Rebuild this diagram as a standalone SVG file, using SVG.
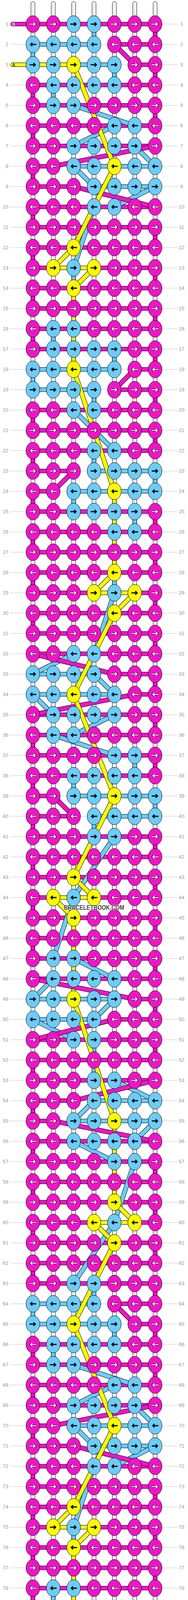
<svg xmlns="http://www.w3.org/2000/svg" xmlns:xlink="http://www.w3.org/1999/xlink" width="480" height="4648" viewBox="0 0 480 4648">
<style>
.ws{fill:#fff;stroke:#000;stroke-width:1}
.wl{fill:none;stroke:#c4c4c4;stroke-width:1.2}
.P{fill:#F014C8;stroke:#000;stroke-width:1}
.C{fill:#6CCCF8;stroke:#000;stroke-width:1}
.Y{fill:#FAFA00;stroke:#000;stroke-width:1}
.o{fill:none;stroke:#000;stroke-width:12;stroke-linejoin:round}
.dP{fill:none;stroke:#F014C8;stroke-width:10;stroke-linejoin:round}
.dC{fill:none;stroke:#6CCCF8;stroke-width:10;stroke-linejoin:round}
.dY{fill:none;stroke:#FAFA00;stroke-width:10;stroke-linejoin:round}
.n{font-family:"Liberation Sans",Arial,sans-serif;font-size:13px;fill:#999}
.ln{text-anchor:end}
.rn{text-anchor:middle}
.lab{font-family:"Liberation Sans",Arial,sans-serif;font-size:11.5px}
.wm{font-family:"Liberation Sans",Arial,sans-serif;font-size:17px;font-weight:bold;fill:#444;stroke:#fff;stroke-width:1.5;paint-order:stroke;text-anchor:middle}
</style>
<defs>
<pattern id="gl" patternUnits="userSpaceOnUse" x="0" y="-26" width="480" height="52"><rect y="25.5" width="480" height="1" fill="#c4c4c4"/></pattern>
<path id="aR" d="M-8.5,0H6M1.5,-4.5L6,0L1.5,4.5" fill="none"/>
<path id="aL" d="M8.5,0H-6M-1.5,-4.5L-6,0L-1.5,4.5" fill="none"/>
<g id="pr"><ellipse class="P" rx="17.5" ry="21.5"/><use href="#aR" stroke="#000" stroke-width="4.6"/><use href="#aR" stroke="#fff" stroke-width="2.4"/></g>
<g id="pl"><ellipse class="P" rx="17.5" ry="21.5"/><use href="#aL" stroke="#000" stroke-width="4.6"/><use href="#aL" stroke="#fff" stroke-width="2.4"/></g>
<g id="cr"><ellipse class="C" rx="17.5" ry="21.5"/><use href="#aR" stroke="#000" stroke-width="3"/></g>
<g id="cl"><ellipse class="C" rx="17.5" ry="21.5"/><use href="#aL" stroke="#000" stroke-width="3"/></g>
<g id="yr"><ellipse class="Y" rx="17.5" ry="21.5"/><use href="#aR" stroke="#000" stroke-width="3"/></g>
<g id="yl"><ellipse class="Y" rx="17.5" ry="21.5"/><use href="#aL" stroke="#000" stroke-width="3"/></g>
<path id="DC" d="M188,208L344,260M292,260L188,312M344,312L396,364M188,364L240,416M396,416L292,468M240,468L188,624M188,988L292,1092M292,1456L240,1612M188,1612L84,1664M240,1664L292,1716M84,1716L136,1768M292,1768L188,1820M136,1820L292,1872M292,2080L188,2236L136,2392M188,2392L292,2444M136,2444L84,2496M292,2496L240,2548M84,2548L188,2600M292,2704L396,2756M240,2756L188,2808M396,2808L344,2860M188,2860L292,2912M344,2912L292,3068L188,3224M188,3432L344,3484M292,3484L188,3536M344,3536L396,3588M188,3588L240,3640M396,3640L292,3692M240,3692L188,3848M188,4212L292,4316"/>
<path id="DP" d="M292,52L344,104M396,312L136,364M188,416L396,468M344,884L292,936M188,1144L136,1196M84,1612L292,1664M344,1716L84,1768M136,1976L188,2028M84,2444L344,2496M292,2548L84,2600M396,2704L188,2756M136,2808L396,2860M292,3276L344,3328M396,3536L136,3588M188,3640L396,3692M344,4108L292,4160M188,4368L136,4420"/>
<path id="DY" d="M188,104L292,364L188,572L136,624M240,624L188,676M188,884L292,1196M292,1404L240,1456M344,1456L292,1508L188,1716L292,1976L188,2184L240,2236M136,2236L188,2288M188,2496L292,2808M292,3016L344,3068M240,3068L292,3120L188,3328L292,3588L188,3796L136,3848M240,3848L188,3900M188,4108L292,4420"/>
</defs>
<rect width="480" height="4648" fill="#fff"/>
<g transform="translate(0,61.7)">
<rect x="27" y="-26" width="427" height="4576" fill="url(#gl)"/>
<g id="strings">
<rect class="ws" x="79" y="-57.7" width="10" height="4638" rx="5"/>
<rect class="ws" x="131" y="-57.7" width="10" height="4638" rx="5"/>
<rect class="ws" x="183" y="-57.7" width="10" height="4638" rx="5"/>
<rect class="ws" x="235" y="-57.7" width="10" height="4638" rx="5"/>
<rect class="ws" x="287" y="-57.7" width="10" height="4638" rx="5"/>
<rect class="ws" x="339" y="-57.7" width="10" height="4638" rx="5"/>
<rect class="ws" x="391" y="-57.7" width="10" height="4638" rx="5"/>
<path class="wl" d="M83,-52V4575M135,-52V4575M187,-52V4575M239,-52V4575M291,-52V4575M343,-52V4575M395,-52V4575"/>
</g>
<g id="connectors">
<path class="P" d="M32,-5H396v10H32a5,5 0 0 1 0-10zM292,47H396v10H292zM344,99H396v10H344zM84,151H396v10H84zM84,203H396v10H84zM84,255H396v10H84zM84,307H396v10H84zM84,359H136v10H84zM84,411H188v10H84zM84,463H396v10H84zM84,515H396v10H84zM84,567H396v10H84zM84,619H136v10H84zM240,619H396v10H240zM84,671H396v10H84zM84,723H396v10H84zM84,775H396v10H84zM84,827H396v10H84zM344,879H396v10H344zM292,931H396v10H292zM84,983H396v10H84zM84,1035H396v10H84zM84,1087H396v10H84zM84,1139H188v10H84zM84,1191H136v10H84zM84,1243H396v10H84zM84,1295H396v10H84zM84,1347H396v10H84zM84,1399H396v10H84zM84,1451H240v10H84zM344,1451H396v10H344zM84,1503H396v10H84zM84,1555H396v10H84zM84,1607H396v10H84zM292,1659H396v10H292zM344,1711H396v10H344zM84,1763H396v10H84zM84,1815H396v10H84zM84,1867H396v10H84zM84,1919H396v10H84zM84,1971H136v10H84zM84,2023H188v10H84zM84,2075H396v10H84zM84,2127H396v10H84zM84,2179H396v10H84zM84,2231H136v10H84zM240,2231H396v10H240zM84,2283H396v10H84zM84,2335H396v10H84zM84,2387H396v10H84zM84,2439H396v10H84zM344,2491H396v10H344zM292,2543H396v10H292zM84,2595H396v10H84zM84,2647H396v10H84zM84,2699H396v10H84zM84,2751H188v10H84zM84,2803H136v10H84zM84,2855H396v10H84zM84,2907H396v10H84zM84,2959H396v10H84zM84,3011H396v10H84zM84,3063H240v10H84zM344,3063H396v10H344zM84,3115H396v10H84zM84,3167H396v10H84zM84,3219H396v10H84zM292,3271H396v10H292zM344,3323H396v10H344zM84,3375H396v10H84zM84,3427H396v10H84zM84,3479H396v10H84zM84,3531H396v10H84zM84,3583H136v10H84zM84,3635H188v10H84zM84,3687H396v10H84zM84,3739H396v10H84zM84,3791H396v10H84zM84,3843H136v10H84zM240,3843H396v10H240zM84,3895H396v10H84zM84,3947H396v10H84zM84,3999H396v10H84zM84,4051H396v10H84zM344,4103H396v10H344zM292,4155H396v10H292zM84,4207H396v10H84zM84,4259H396v10H84zM84,4311H396v10H84zM84,4363H188v10H84zM84,4467H396v10H84zM32,4519H396v10H32a5,5 0 0 1 0-10z"/>
<path class="P" d="M391,16h10v20h-10zM391,120h10v20h-10zM79,172h10v20h-10zM391,224h10v20h-10zM79,276h10v20h-10zM79,380h10v20h-10zM79,484h10v20h-10zM391,536h10v20h-10zM79,588h10v20h-10zM391,640h10v20h-10zM79,692h10v20h-10zM391,744h10v20h-10zM79,796h10v20h-10zM391,848h10v20h-10zM391,952h10v20h-10zM79,1004h10v20h-10zM391,1056h10v20h-10zM79,1108h10v20h-10zM79,1212h10v20h-10zM391,1264h10v20h-10zM79,1316h10v20h-10zM391,1368h10v20h-10zM79,1420h10v20h-10zM391,1472h10v20h-10zM79,1524h10v20h-10zM391,1576h10v20h-10zM391,1680h10v20h-10zM391,1784h10v20h-10zM79,1836h10v20h-10zM391,1888h10v20h-10zM79,1940h10v20h-10zM79,2044h10v20h-10zM391,2096h10v20h-10zM79,2148h10v20h-10zM391,2200h10v20h-10zM79,2252h10v20h-10zM391,2304h10v20h-10zM79,2356h10v20h-10zM391,2408h10v20h-10zM391,2512h10v20h-10zM391,2616h10v20h-10zM79,2668h10v20h-10zM79,2772h10v20h-10zM79,2876h10v20h-10zM391,2928h10v20h-10zM79,2980h10v20h-10zM391,3032h10v20h-10zM79,3084h10v20h-10zM391,3136h10v20h-10zM79,3188h10v20h-10zM391,3240h10v20h-10zM391,3344h10v20h-10zM79,3396h10v20h-10zM391,3448h10v20h-10zM79,3500h10v20h-10zM79,3604h10v20h-10zM79,3708h10v20h-10zM391,3760h10v20h-10zM79,3812h10v20h-10zM391,3864h10v20h-10zM79,3916h10v20h-10zM391,3968h10v20h-10zM79,4020h10v20h-10zM391,4072h10v20h-10zM391,4176h10v20h-10zM79,4228h10v20h-10zM391,4280h10v20h-10zM79,4332h10v20h-10zM79,4436h10v20h-10zM391,4488h10v20h-10z"/>
<path class="C" d="M84,47H240v10H84zM188,99H292v10H188zM188,359H396v10H188zM240,411H396v10H240zM84,879H292v10H84zM84,931H240v10H84zM240,1139H396v10H240zM188,1191H396v10H188zM84,1659H240v10H84zM84,1711H292v10H84zM188,1971H396v10H188zM240,2023H396v10H240zM84,2491H292v10H84zM84,2543H240v10H84zM240,2751H396v10H240zM188,2803H396v10H188zM84,3271H240v10H84zM84,3323H292v10H84zM188,3583H396v10H188zM240,3635H396v10H240zM84,4103H292v10H84zM84,4155H240v10H84zM240,4363H396v10H240zM292,4415H396v10H292z"/>
<path class="C" d="M235,16h10v20h-10zM79,68h10v20h-10zM287,120h10v20h-10zM131,172h10v20h-10zM183,640h10v20h-10zM131,796h10v20h-10zM287,848h10v20h-10zM79,900h10v20h-10zM235,952h10v20h-10zM235,1108h10v20h-10zM391,1160h10v20h-10zM183,1212h10v20h-10zM339,1264h10v20h-10zM287,1420h10v20h-10zM339,1888h10v20h-10zM183,1940h10v20h-10zM391,1992h10v20h-10zM235,2044h10v20h-10zM235,2616h10v20h-10zM235,2668h10v20h-10zM235,3240h10v20h-10zM79,3292h10v20h-10zM287,3344h10v20h-10zM131,3396h10v20h-10zM183,3864h10v20h-10zM131,4020h10v20h-10zM287,4072h10v20h-10zM79,4124h10v20h-10zM235,4176h10v20h-10zM235,4332h10v20h-10zM391,4384h10v20h-10zM183,4436h10v20h-10zM339,4488h10v20h-10z"/>
<path class="Y" d="M32,99H188v10H32a5,5 0 0 1 0-10zM136,619H240v10H136zM240,1451H344v10H240zM136,2231H240v10H136zM240,3063H344v10H240zM136,3843H240v10H136zM32,4415H292v10H32a5,5 0 0 1 0-10zM183,692h10v176h-10zM287,1212h10v176h-10zM183,2304h10v176h-10zM287,2824h10v176h-10zM183,3916h10v176h-10z"/>
<use href="#DC" class="o"/><use href="#DC" class="dC"/>
<use href="#DP" class="o"/><use href="#DP" class="dP"/>
<use href="#DY" class="o"/><use href="#DY" class="dY"/>
</g>
<g id="knots">
<g transform="translate(0,0)"><g id="k1_1"><use href="#pr" x="84"/></g><g id="k1_2"><use href="#pr" x="136"/></g><g id="k1_3"><use href="#cr" x="188"/></g><g id="k1_4"><use href="#cr" x="240"/></g><g id="k1_5"><use href="#pr" x="292"/></g><g id="k1_6"><use href="#pr" x="344"/></g><g id="k1_7"><use href="#pr" x="396"/></g></g>
<g transform="translate(0,52)"><g id="k2_1"><use href="#cl" x="84"/></g><g id="k2_2"><use href="#cl" x="136"/></g><g id="k2_3"><use href="#cl" x="188"/></g><g id="k2_4"><use href="#cl" x="240"/></g><g id="k2_5"><use href="#pl" x="292"/></g><g id="k2_6"><use href="#pl" x="344"/></g><g id="k2_7"><use href="#pl" x="396"/></g></g>
<g transform="translate(0,104)"><g id="k3_1"><use href="#cr" x="84"/></g><g id="k3_2"><use href="#cr" x="136"/></g><g id="k3_3"><use href="#yr" x="188"/></g><g id="k3_4"><use href="#cr" x="240"/></g><g id="k3_5"><use href="#cr" x="292"/></g><g id="k3_6"><use href="#pr" x="344"/></g><g id="k3_7"><use href="#pr" x="396"/></g></g>
<g transform="translate(0,156)"><g id="k4_1"><use href="#pl" x="84"/></g><g id="k4_2"><use href="#cl" x="136"/></g><g id="k4_3"><use href="#cl" x="188"/></g><g id="k4_4"><use href="#cl" x="240"/></g><g id="k4_5"><use href="#cl" x="292"/></g><g id="k4_6"><use href="#pl" x="344"/></g><g id="k4_7"><use href="#pl" x="396"/></g></g>
<g transform="translate(0,208)"><g id="k5_1"><use href="#pr" x="84"/></g><g id="k5_2"><use href="#cr" x="136"/></g><g id="k5_3"><use href="#cr" x="188"/></g><g id="k5_4"><use href="#pr" x="240"/></g><g id="k5_5"><use href="#pr" x="292"/></g><g id="k5_6"><use href="#pr" x="344"/></g><g id="k5_7"><use href="#pr" x="396"/></g></g>
<g transform="translate(0,260)"><g id="k6_1"><use href="#pl" x="84"/></g><g id="k6_2"><use href="#pl" x="136"/></g><g id="k6_3"><use href="#pl" x="188"/></g><g id="k6_4"><use href="#pl" x="240"/></g><g id="k6_5"><use href="#cl" x="292"/></g><g id="k6_6"><use href="#cl" x="344"/></g><g id="k6_7"><use href="#pl" x="396"/></g></g>
<g transform="translate(0,312)"><g id="k7_1"><use href="#pr" x="84"/></g><g id="k7_2"><use href="#pr" x="136"/></g><g id="k7_3"><use href="#cr" x="188"/></g><g id="k7_4"><use href="#cr" x="240"/></g><g id="k7_5"><use href="#cr" x="292"/></g><g id="k7_6"><use href="#cr" x="344"/></g><g id="k7_7"><use href="#pr" x="396"/></g></g>
<g transform="translate(0,364)"><g id="k8_1"><use href="#pl" x="84"/></g><g id="k8_2"><use href="#pl" x="136"/></g><g id="k8_3"><use href="#cl" x="188"/></g><g id="k8_4"><use href="#cl" x="240"/></g><g id="k8_5"><use href="#yl" x="292"/></g><g id="k8_6"><use href="#cl" x="344"/></g><g id="k8_7"><use href="#cl" x="396"/></g></g>
<g transform="translate(0,416)"><g id="k9_1"><use href="#pr" x="84"/></g><g id="k9_2"><use href="#pr" x="136"/></g><g id="k9_3"><use href="#pr" x="188"/></g><g id="k9_4"><use href="#cr" x="240"/></g><g id="k9_5"><use href="#cr" x="292"/></g><g id="k9_6"><use href="#cr" x="344"/></g><g id="k9_7"><use href="#cr" x="396"/></g></g>
<g transform="translate(0,468)"><g id="k10_1"><use href="#pl" x="84"/></g><g id="k10_2"><use href="#pl" x="136"/></g><g id="k10_3"><use href="#pl" x="188"/></g><g id="k10_4"><use href="#cl" x="240"/></g><g id="k10_5"><use href="#cl" x="292"/></g><g id="k10_6"><use href="#pl" x="344"/></g><g id="k10_7"><use href="#pl" x="396"/></g></g>
<g transform="translate(0,520)"><g id="k11_1"><use href="#pr" x="84"/></g><g id="k11_2"><use href="#pr" x="136"/></g><g id="k11_3"><use href="#pr" x="188"/></g><g id="k11_4"><use href="#pr" x="240"/></g><g id="k11_5"><use href="#pr" x="292"/></g><g id="k11_6"><use href="#pr" x="344"/></g><g id="k11_7"><use href="#pr" x="396"/></g></g>
<g transform="translate(0,572)"><g id="k12_1"><use href="#pl" x="84"/></g><g id="k12_2"><use href="#pl" x="136"/></g><g id="k12_3"><use href="#yl" x="188"/></g><g id="k12_4"><use href="#pl" x="240"/></g><g id="k12_5"><use href="#pl" x="292"/></g><g id="k12_6"><use href="#pl" x="344"/></g><g id="k12_7"><use href="#pl" x="396"/></g></g>
<g transform="translate(0,624)"><g id="k13_1"><use href="#pr" x="84"/></g><g id="k13_2"><use href="#yr" x="136"/></g><g id="k13_3"><use href="#cr" x="188"/></g><g id="k13_4"><use href="#yr" x="240"/></g><g id="k13_5"><use href="#pr" x="292"/></g><g id="k13_6"><use href="#pr" x="344"/></g><g id="k13_7"><use href="#pr" x="396"/></g></g>
<g transform="translate(0,676)"><g id="k14_1"><use href="#pl" x="84"/></g><g id="k14_2"><use href="#pl" x="136"/></g><g id="k14_3"><use href="#yl" x="188"/></g><g id="k14_4"><use href="#pl" x="240"/></g><g id="k14_5"><use href="#pl" x="292"/></g><g id="k14_6"><use href="#pl" x="344"/></g><g id="k14_7"><use href="#pl" x="396"/></g></g>
<g transform="translate(0,728)"><g id="k15_1"><use href="#pr" x="84"/></g><g id="k15_2"><use href="#pr" x="136"/></g><g id="k15_3"><use href="#pr" x="188"/></g><g id="k15_4"><use href="#pr" x="240"/></g><g id="k15_5"><use href="#pr" x="292"/></g><g id="k15_6"><use href="#pr" x="344"/></g><g id="k15_7"><use href="#pr" x="396"/></g></g>
<g transform="translate(0,780)"><g id="k16_1"><use href="#pl" x="84"/></g><g id="k16_2"><use href="#cl" x="136"/></g><g id="k16_3"><use href="#cl" x="188"/></g><g id="k16_4"><use href="#pl" x="240"/></g><g id="k16_5"><use href="#pl" x="292"/></g><g id="k16_6"><use href="#pl" x="344"/></g><g id="k16_7"><use href="#pl" x="396"/></g></g>
<g transform="translate(0,832)"><g id="k17_1"><use href="#pr" x="84"/></g><g id="k17_2"><use href="#cr" x="136"/></g><g id="k17_3"><use href="#cr" x="188"/></g><g id="k17_4"><use href="#cr" x="240"/></g><g id="k17_5"><use href="#cr" x="292"/></g><g id="k17_6"><use href="#pr" x="344"/></g><g id="k17_7"><use href="#pr" x="396"/></g></g>
<g transform="translate(0,884)"><g id="k18_1"><use href="#cl" x="84"/></g><g id="k18_2"><use href="#cl" x="136"/></g><g id="k18_3"><use href="#yl" x="188"/></g><g id="k18_4"><use href="#cl" x="240"/></g><g id="k18_5"><use href="#cl" x="292"/></g><g id="k18_6"><use href="#pl" x="344"/></g><g id="k18_7"><use href="#pl" x="396"/></g></g>
<g transform="translate(0,936)"><g id="k19_1"><use href="#cr" x="84"/></g><g id="k19_2"><use href="#cr" x="136"/></g><g id="k19_3"><use href="#cr" x="188"/></g><g id="k19_4"><use href="#cr" x="240"/></g><g id="k19_5"><use href="#pr" x="292"/></g><g id="k19_6"><use href="#pr" x="344"/></g><g id="k19_7"><use href="#pr" x="396"/></g></g>
<g transform="translate(0,988)"><g id="k20_1"><use href="#pl" x="84"/></g><g id="k20_2"><use href="#pl" x="136"/></g><g id="k20_3"><use href="#cl" x="188"/></g><g id="k20_4"><use href="#cl" x="240"/></g><g id="k20_5"><use href="#pl" x="292"/></g><g id="k20_6"><use href="#pl" x="344"/></g><g id="k20_7"><use href="#pl" x="396"/></g></g>
<g transform="translate(0,1040)"><g id="k21_1"><use href="#pr" x="84"/></g><g id="k21_2"><use href="#pr" x="136"/></g><g id="k21_3"><use href="#pr" x="188"/></g><g id="k21_4"><use href="#pr" x="240"/></g><g id="k21_5"><use href="#pr" x="292"/></g><g id="k21_6"><use href="#pr" x="344"/></g><g id="k21_7"><use href="#pr" x="396"/></g></g>
<g transform="translate(0,1092)"><g id="k22_1"><use href="#pl" x="84"/></g><g id="k22_2"><use href="#pl" x="136"/></g><g id="k22_3"><use href="#pl" x="188"/></g><g id="k22_4"><use href="#cl" x="240"/></g><g id="k22_5"><use href="#cl" x="292"/></g><g id="k22_6"><use href="#pl" x="344"/></g><g id="k22_7"><use href="#pl" x="396"/></g></g>
<g transform="translate(0,1144)"><g id="k23_1"><use href="#pr" x="84"/></g><g id="k23_2"><use href="#pr" x="136"/></g><g id="k23_3"><use href="#pr" x="188"/></g><g id="k23_4"><use href="#cr" x="240"/></g><g id="k23_5"><use href="#cr" x="292"/></g><g id="k23_6"><use href="#cr" x="344"/></g><g id="k23_7"><use href="#cr" x="396"/></g></g>
<g transform="translate(0,1196)"><g id="k24_1"><use href="#pl" x="84"/></g><g id="k24_2"><use href="#pl" x="136"/></g><g id="k24_3"><use href="#cl" x="188"/></g><g id="k24_4"><use href="#cl" x="240"/></g><g id="k24_5"><use href="#yl" x="292"/></g><g id="k24_6"><use href="#cl" x="344"/></g><g id="k24_7"><use href="#cl" x="396"/></g></g>
<g transform="translate(0,1248)"><g id="k25_1"><use href="#pr" x="84"/></g><g id="k25_2"><use href="#pr" x="136"/></g><g id="k25_3"><use href="#cr" x="188"/></g><g id="k25_4"><use href="#cr" x="240"/></g><g id="k25_5"><use href="#cr" x="292"/></g><g id="k25_6"><use href="#cr" x="344"/></g><g id="k25_7"><use href="#pr" x="396"/></g></g>
<g transform="translate(0,1300)"><g id="k26_1"><use href="#pl" x="84"/></g><g id="k26_2"><use href="#pl" x="136"/></g><g id="k26_3"><use href="#pl" x="188"/></g><g id="k26_4"><use href="#pl" x="240"/></g><g id="k26_5"><use href="#cl" x="292"/></g><g id="k26_6"><use href="#cl" x="344"/></g><g id="k26_7"><use href="#pl" x="396"/></g></g>
<g transform="translate(0,1352)"><g id="k27_1"><use href="#pr" x="84"/></g><g id="k27_2"><use href="#pr" x="136"/></g><g id="k27_3"><use href="#pr" x="188"/></g><g id="k27_4"><use href="#pr" x="240"/></g><g id="k27_5"><use href="#pr" x="292"/></g><g id="k27_6"><use href="#pr" x="344"/></g><g id="k27_7"><use href="#pr" x="396"/></g></g>
<g transform="translate(0,1404)"><g id="k28_1"><use href="#pl" x="84"/></g><g id="k28_2"><use href="#pl" x="136"/></g><g id="k28_3"><use href="#pl" x="188"/></g><g id="k28_4"><use href="#pl" x="240"/></g><g id="k28_5"><use href="#yl" x="292"/></g><g id="k28_6"><use href="#pl" x="344"/></g><g id="k28_7"><use href="#pl" x="396"/></g></g>
<g transform="translate(0,1456)"><g id="k29_1"><use href="#pr" x="84"/></g><g id="k29_2"><use href="#pr" x="136"/></g><g id="k29_3"><use href="#pr" x="188"/></g><g id="k29_4"><use href="#yr" x="240"/></g><g id="k29_5"><use href="#cr" x="292"/></g><g id="k29_6"><use href="#yr" x="344"/></g><g id="k29_7"><use href="#pr" x="396"/></g></g>
<g transform="translate(0,1508)"><g id="k30_1"><use href="#pl" x="84"/></g><g id="k30_2"><use href="#pl" x="136"/></g><g id="k30_3"><use href="#pl" x="188"/></g><g id="k30_4"><use href="#pl" x="240"/></g><g id="k30_5"><use href="#yl" x="292"/></g><g id="k30_6"><use href="#pl" x="344"/></g><g id="k30_7"><use href="#pl" x="396"/></g></g>
<g transform="translate(0,1560)"><g id="k31_1"><use href="#pr" x="84"/></g><g id="k31_2"><use href="#pr" x="136"/></g><g id="k31_3"><use href="#pr" x="188"/></g><g id="k31_4"><use href="#pr" x="240"/></g><g id="k31_5"><use href="#pr" x="292"/></g><g id="k31_6"><use href="#pr" x="344"/></g><g id="k31_7"><use href="#pr" x="396"/></g></g>
<g transform="translate(0,1612)"><g id="k32_1"><use href="#pl" x="84"/></g><g id="k32_2"><use href="#pl" x="136"/></g><g id="k32_3"><use href="#cl" x="188"/></g><g id="k32_4"><use href="#cl" x="240"/></g><g id="k32_5"><use href="#pl" x="292"/></g><g id="k32_6"><use href="#pl" x="344"/></g><g id="k32_7"><use href="#pl" x="396"/></g></g>
<g transform="translate(0,1664)"><g id="k33_1"><use href="#cr" x="84"/></g><g id="k33_2"><use href="#cr" x="136"/></g><g id="k33_3"><use href="#cr" x="188"/></g><g id="k33_4"><use href="#cr" x="240"/></g><g id="k33_5"><use href="#pr" x="292"/></g><g id="k33_6"><use href="#pr" x="344"/></g><g id="k33_7"><use href="#pr" x="396"/></g></g>
<g transform="translate(0,1716)"><g id="k34_1"><use href="#cl" x="84"/></g><g id="k34_2"><use href="#cl" x="136"/></g><g id="k34_3"><use href="#yl" x="188"/></g><g id="k34_4"><use href="#cl" x="240"/></g><g id="k34_5"><use href="#cl" x="292"/></g><g id="k34_6"><use href="#pl" x="344"/></g><g id="k34_7"><use href="#pl" x="396"/></g></g>
<g transform="translate(0,1768)"><g id="k35_1"><use href="#pr" x="84"/></g><g id="k35_2"><use href="#cr" x="136"/></g><g id="k35_3"><use href="#cr" x="188"/></g><g id="k35_4"><use href="#cr" x="240"/></g><g id="k35_5"><use href="#cr" x="292"/></g><g id="k35_6"><use href="#pr" x="344"/></g><g id="k35_7"><use href="#pr" x="396"/></g></g>
<g transform="translate(0,1820)"><g id="k36_1"><use href="#pl" x="84"/></g><g id="k36_2"><use href="#cl" x="136"/></g><g id="k36_3"><use href="#cl" x="188"/></g><g id="k36_4"><use href="#pl" x="240"/></g><g id="k36_5"><use href="#pl" x="292"/></g><g id="k36_6"><use href="#pl" x="344"/></g><g id="k36_7"><use href="#pl" x="396"/></g></g>
<g transform="translate(0,1872)"><g id="k37_1"><use href="#pr" x="84"/></g><g id="k37_2"><use href="#pr" x="136"/></g><g id="k37_3"><use href="#pr" x="188"/></g><g id="k37_4"><use href="#pr" x="240"/></g><g id="k37_5"><use href="#cr" x="292"/></g><g id="k37_6"><use href="#cr" x="344"/></g><g id="k37_7"><use href="#pr" x="396"/></g></g>
<g transform="translate(0,1924)"><g id="k38_1"><use href="#pl" x="84"/></g><g id="k38_2"><use href="#pl" x="136"/></g><g id="k38_3"><use href="#cl" x="188"/></g><g id="k38_4"><use href="#cl" x="240"/></g><g id="k38_5"><use href="#cl" x="292"/></g><g id="k38_6"><use href="#cl" x="344"/></g><g id="k38_7"><use href="#pl" x="396"/></g></g>
<g transform="translate(0,1976)"><g id="k39_1"><use href="#pr" x="84"/></g><g id="k39_2"><use href="#pr" x="136"/></g><g id="k39_3"><use href="#cr" x="188"/></g><g id="k39_4"><use href="#cr" x="240"/></g><g id="k39_5"><use href="#yr" x="292"/></g><g id="k39_6"><use href="#cr" x="344"/></g><g id="k39_7"><use href="#cr" x="396"/></g></g>
<g transform="translate(0,2028)"><g id="k40_1"><use href="#pl" x="84"/></g><g id="k40_2"><use href="#pl" x="136"/></g><g id="k40_3"><use href="#pl" x="188"/></g><g id="k40_4"><use href="#cl" x="240"/></g><g id="k40_5"><use href="#cl" x="292"/></g><g id="k40_6"><use href="#cl" x="344"/></g><g id="k40_7"><use href="#cl" x="396"/></g></g>
<g transform="translate(0,2080)"><g id="k41_1"><use href="#pr" x="84"/></g><g id="k41_2"><use href="#pr" x="136"/></g><g id="k41_3"><use href="#pr" x="188"/></g><g id="k41_4"><use href="#cr" x="240"/></g><g id="k41_5"><use href="#cr" x="292"/></g><g id="k41_6"><use href="#pr" x="344"/></g><g id="k41_7"><use href="#pr" x="396"/></g></g>
<g transform="translate(0,2132)"><g id="k42_1"><use href="#pl" x="84"/></g><g id="k42_2"><use href="#pl" x="136"/></g><g id="k42_3"><use href="#pl" x="188"/></g><g id="k42_4"><use href="#pl" x="240"/></g><g id="k42_5"><use href="#pl" x="292"/></g><g id="k42_6"><use href="#pl" x="344"/></g><g id="k42_7"><use href="#pl" x="396"/></g></g>
<g transform="translate(0,2184)"><g id="k43_1"><use href="#pr" x="84"/></g><g id="k43_2"><use href="#pr" x="136"/></g><g id="k43_3"><use href="#yr" x="188"/></g><g id="k43_4"><use href="#pr" x="240"/></g><g id="k43_5"><use href="#pr" x="292"/></g><g id="k43_6"><use href="#pr" x="344"/></g><g id="k43_7"><use href="#pr" x="396"/></g></g>
<g transform="translate(0,2236)"><g id="k44_1"><use href="#pl" x="84"/></g><g id="k44_2"><use href="#yl" x="136"/></g><g id="k44_3"><use href="#cl" x="188"/></g><g id="k44_4"><use href="#yl" x="240"/></g><g id="k44_5"><use href="#pl" x="292"/></g><g id="k44_6"><use href="#pl" x="344"/></g><g id="k44_7"><use href="#pl" x="396"/></g></g>
<g transform="translate(0,2288)"><g id="k45_1"><use href="#pr" x="84"/></g><g id="k45_2"><use href="#pr" x="136"/></g><g id="k45_3"><use href="#yr" x="188"/></g><g id="k45_4"><use href="#pr" x="240"/></g><g id="k45_5"><use href="#pr" x="292"/></g><g id="k45_6"><use href="#pr" x="344"/></g><g id="k45_7"><use href="#pr" x="396"/></g></g>
<g transform="translate(0,2340)"><g id="k46_1"><use href="#pl" x="84"/></g><g id="k46_2"><use href="#pl" x="136"/></g><g id="k46_3"><use href="#pl" x="188"/></g><g id="k46_4"><use href="#pl" x="240"/></g><g id="k46_5"><use href="#pl" x="292"/></g><g id="k46_6"><use href="#pl" x="344"/></g><g id="k46_7"><use href="#pl" x="396"/></g></g>
<g transform="translate(0,2392)"><g id="k47_1"><use href="#pr" x="84"/></g><g id="k47_2"><use href="#cr" x="136"/></g><g id="k47_3"><use href="#cr" x="188"/></g><g id="k47_4"><use href="#pr" x="240"/></g><g id="k47_5"><use href="#pr" x="292"/></g><g id="k47_6"><use href="#pr" x="344"/></g><g id="k47_7"><use href="#pr" x="396"/></g></g>
<g transform="translate(0,2444)"><g id="k48_1"><use href="#pl" x="84"/></g><g id="k48_2"><use href="#cl" x="136"/></g><g id="k48_3"><use href="#cl" x="188"/></g><g id="k48_4"><use href="#cl" x="240"/></g><g id="k48_5"><use href="#cl" x="292"/></g><g id="k48_6"><use href="#pl" x="344"/></g><g id="k48_7"><use href="#pl" x="396"/></g></g>
<g transform="translate(0,2496)"><g id="k49_1"><use href="#cr" x="84"/></g><g id="k49_2"><use href="#cr" x="136"/></g><g id="k49_3"><use href="#yr" x="188"/></g><g id="k49_4"><use href="#cr" x="240"/></g><g id="k49_5"><use href="#cr" x="292"/></g><g id="k49_6"><use href="#pr" x="344"/></g><g id="k49_7"><use href="#pr" x="396"/></g></g>
<g transform="translate(0,2548)"><g id="k50_1"><use href="#cl" x="84"/></g><g id="k50_2"><use href="#cl" x="136"/></g><g id="k50_3"><use href="#cl" x="188"/></g><g id="k50_4"><use href="#cl" x="240"/></g><g id="k50_5"><use href="#pl" x="292"/></g><g id="k50_6"><use href="#pl" x="344"/></g><g id="k50_7"><use href="#pl" x="396"/></g></g>
<g transform="translate(0,2600)"><g id="k51_1"><use href="#pr" x="84"/></g><g id="k51_2"><use href="#pr" x="136"/></g><g id="k51_3"><use href="#cr" x="188"/></g><g id="k51_4"><use href="#cr" x="240"/></g><g id="k51_5"><use href="#pr" x="292"/></g><g id="k51_6"><use href="#pr" x="344"/></g><g id="k51_7"><use href="#pr" x="396"/></g></g>
<g transform="translate(0,2652)"><g id="k52_1"><use href="#pl" x="84"/></g><g id="k52_2"><use href="#pl" x="136"/></g><g id="k52_3"><use href="#pl" x="188"/></g><g id="k52_4"><use href="#pl" x="240"/></g><g id="k52_5"><use href="#pl" x="292"/></g><g id="k52_6"><use href="#pl" x="344"/></g><g id="k52_7"><use href="#pl" x="396"/></g></g>
<g transform="translate(0,2704)"><g id="k53_1"><use href="#pr" x="84"/></g><g id="k53_2"><use href="#pr" x="136"/></g><g id="k53_3"><use href="#pr" x="188"/></g><g id="k53_4"><use href="#cr" x="240"/></g><g id="k53_5"><use href="#cr" x="292"/></g><g id="k53_6"><use href="#pr" x="344"/></g><g id="k53_7"><use href="#pr" x="396"/></g></g>
<g transform="translate(0,2756)"><g id="k54_1"><use href="#pl" x="84"/></g><g id="k54_2"><use href="#pl" x="136"/></g><g id="k54_3"><use href="#pl" x="188"/></g><g id="k54_4"><use href="#cl" x="240"/></g><g id="k54_5"><use href="#cl" x="292"/></g><g id="k54_6"><use href="#cl" x="344"/></g><g id="k54_7"><use href="#cl" x="396"/></g></g>
<g transform="translate(0,2808)"><g id="k55_1"><use href="#pr" x="84"/></g><g id="k55_2"><use href="#pr" x="136"/></g><g id="k55_3"><use href="#cr" x="188"/></g><g id="k55_4"><use href="#cr" x="240"/></g><g id="k55_5"><use href="#yr" x="292"/></g><g id="k55_6"><use href="#cr" x="344"/></g><g id="k55_7"><use href="#cr" x="396"/></g></g>
<g transform="translate(0,2860)"><g id="k56_1"><use href="#pl" x="84"/></g><g id="k56_2"><use href="#pl" x="136"/></g><g id="k56_3"><use href="#cl" x="188"/></g><g id="k56_4"><use href="#cl" x="240"/></g><g id="k56_5"><use href="#cl" x="292"/></g><g id="k56_6"><use href="#cl" x="344"/></g><g id="k56_7"><use href="#pl" x="396"/></g></g>
<g transform="translate(0,2912)"><g id="k57_1"><use href="#pr" x="84"/></g><g id="k57_2"><use href="#pr" x="136"/></g><g id="k57_3"><use href="#pr" x="188"/></g><g id="k57_4"><use href="#pr" x="240"/></g><g id="k57_5"><use href="#cr" x="292"/></g><g id="k57_6"><use href="#cr" x="344"/></g><g id="k57_7"><use href="#pr" x="396"/></g></g>
<g transform="translate(0,2964)"><g id="k58_1"><use href="#pl" x="84"/></g><g id="k58_2"><use href="#pl" x="136"/></g><g id="k58_3"><use href="#pl" x="188"/></g><g id="k58_4"><use href="#pl" x="240"/></g><g id="k58_5"><use href="#pl" x="292"/></g><g id="k58_6"><use href="#pl" x="344"/></g><g id="k58_7"><use href="#pl" x="396"/></g></g>
<g transform="translate(0,3016)"><g id="k59_1"><use href="#pr" x="84"/></g><g id="k59_2"><use href="#pr" x="136"/></g><g id="k59_3"><use href="#pr" x="188"/></g><g id="k59_4"><use href="#pr" x="240"/></g><g id="k59_5"><use href="#yr" x="292"/></g><g id="k59_6"><use href="#pr" x="344"/></g><g id="k59_7"><use href="#pr" x="396"/></g></g>
<g transform="translate(0,3068)"><g id="k60_1"><use href="#pl" x="84"/></g><g id="k60_2"><use href="#pl" x="136"/></g><g id="k60_3"><use href="#pl" x="188"/></g><g id="k60_4"><use href="#yl" x="240"/></g><g id="k60_5"><use href="#cl" x="292"/></g><g id="k60_6"><use href="#yl" x="344"/></g><g id="k60_7"><use href="#pl" x="396"/></g></g>
<g transform="translate(0,3120)"><g id="k61_1"><use href="#pr" x="84"/></g><g id="k61_2"><use href="#pr" x="136"/></g><g id="k61_3"><use href="#pr" x="188"/></g><g id="k61_4"><use href="#pr" x="240"/></g><g id="k61_5"><use href="#yr" x="292"/></g><g id="k61_6"><use href="#pr" x="344"/></g><g id="k61_7"><use href="#pr" x="396"/></g></g>
<g transform="translate(0,3172)"><g id="k62_1"><use href="#pl" x="84"/></g><g id="k62_2"><use href="#pl" x="136"/></g><g id="k62_3"><use href="#pl" x="188"/></g><g id="k62_4"><use href="#pl" x="240"/></g><g id="k62_5"><use href="#pl" x="292"/></g><g id="k62_6"><use href="#pl" x="344"/></g><g id="k62_7"><use href="#pl" x="396"/></g></g>
<g transform="translate(0,3224)"><g id="k63_1"><use href="#pr" x="84"/></g><g id="k63_2"><use href="#pr" x="136"/></g><g id="k63_3"><use href="#cr" x="188"/></g><g id="k63_4"><use href="#cr" x="240"/></g><g id="k63_5"><use href="#pr" x="292"/></g><g id="k63_6"><use href="#pr" x="344"/></g><g id="k63_7"><use href="#pr" x="396"/></g></g>
<g transform="translate(0,3276)"><g id="k64_1"><use href="#cl" x="84"/></g><g id="k64_2"><use href="#cl" x="136"/></g><g id="k64_3"><use href="#cl" x="188"/></g><g id="k64_4"><use href="#cl" x="240"/></g><g id="k64_5"><use href="#pl" x="292"/></g><g id="k64_6"><use href="#pl" x="344"/></g><g id="k64_7"><use href="#pl" x="396"/></g></g>
<g transform="translate(0,3328)"><g id="k65_1"><use href="#cr" x="84"/></g><g id="k65_2"><use href="#cr" x="136"/></g><g id="k65_3"><use href="#yr" x="188"/></g><g id="k65_4"><use href="#cr" x="240"/></g><g id="k65_5"><use href="#cr" x="292"/></g><g id="k65_6"><use href="#pr" x="344"/></g><g id="k65_7"><use href="#pr" x="396"/></g></g>
<g transform="translate(0,3380)"><g id="k66_1"><use href="#pl" x="84"/></g><g id="k66_2"><use href="#cl" x="136"/></g><g id="k66_3"><use href="#cl" x="188"/></g><g id="k66_4"><use href="#cl" x="240"/></g><g id="k66_5"><use href="#cl" x="292"/></g><g id="k66_6"><use href="#pl" x="344"/></g><g id="k66_7"><use href="#pl" x="396"/></g></g>
<g transform="translate(0,3432)"><g id="k67_1"><use href="#pr" x="84"/></g><g id="k67_2"><use href="#cr" x="136"/></g><g id="k67_3"><use href="#cr" x="188"/></g><g id="k67_4"><use href="#pr" x="240"/></g><g id="k67_5"><use href="#pr" x="292"/></g><g id="k67_6"><use href="#pr" x="344"/></g><g id="k67_7"><use href="#pr" x="396"/></g></g>
<g transform="translate(0,3484)"><g id="k68_1"><use href="#pl" x="84"/></g><g id="k68_2"><use href="#pl" x="136"/></g><g id="k68_3"><use href="#pl" x="188"/></g><g id="k68_4"><use href="#pl" x="240"/></g><g id="k68_5"><use href="#cl" x="292"/></g><g id="k68_6"><use href="#cl" x="344"/></g><g id="k68_7"><use href="#pl" x="396"/></g></g>
<g transform="translate(0,3536)"><g id="k69_1"><use href="#pr" x="84"/></g><g id="k69_2"><use href="#pr" x="136"/></g><g id="k69_3"><use href="#cr" x="188"/></g><g id="k69_4"><use href="#cr" x="240"/></g><g id="k69_5"><use href="#cr" x="292"/></g><g id="k69_6"><use href="#cr" x="344"/></g><g id="k69_7"><use href="#pr" x="396"/></g></g>
<g transform="translate(0,3588)"><g id="k70_1"><use href="#pl" x="84"/></g><g id="k70_2"><use href="#pl" x="136"/></g><g id="k70_3"><use href="#cl" x="188"/></g><g id="k70_4"><use href="#cl" x="240"/></g><g id="k70_5"><use href="#yl" x="292"/></g><g id="k70_6"><use href="#cl" x="344"/></g><g id="k70_7"><use href="#cl" x="396"/></g></g>
<g transform="translate(0,3640)"><g id="k71_1"><use href="#pr" x="84"/></g><g id="k71_2"><use href="#pr" x="136"/></g><g id="k71_3"><use href="#pr" x="188"/></g><g id="k71_4"><use href="#cr" x="240"/></g><g id="k71_5"><use href="#cr" x="292"/></g><g id="k71_6"><use href="#cr" x="344"/></g><g id="k71_7"><use href="#cr" x="396"/></g></g>
<g transform="translate(0,3692)"><g id="k72_1"><use href="#pl" x="84"/></g><g id="k72_2"><use href="#pl" x="136"/></g><g id="k72_3"><use href="#pl" x="188"/></g><g id="k72_4"><use href="#cl" x="240"/></g><g id="k72_5"><use href="#cl" x="292"/></g><g id="k72_6"><use href="#pl" x="344"/></g><g id="k72_7"><use href="#pl" x="396"/></g></g>
<g transform="translate(0,3744)"><g id="k73_1"><use href="#pr" x="84"/></g><g id="k73_2"><use href="#pr" x="136"/></g><g id="k73_3"><use href="#pr" x="188"/></g><g id="k73_4"><use href="#pr" x="240"/></g><g id="k73_5"><use href="#pr" x="292"/></g><g id="k73_6"><use href="#pr" x="344"/></g><g id="k73_7"><use href="#pr" x="396"/></g></g>
<g transform="translate(0,3796)"><g id="k74_1"><use href="#pl" x="84"/></g><g id="k74_2"><use href="#pl" x="136"/></g><g id="k74_3"><use href="#yl" x="188"/></g><g id="k74_4"><use href="#pl" x="240"/></g><g id="k74_5"><use href="#pl" x="292"/></g><g id="k74_6"><use href="#pl" x="344"/></g><g id="k74_7"><use href="#pl" x="396"/></g></g>
<g transform="translate(0,3848)"><g id="k75_1"><use href="#pr" x="84"/></g><g id="k75_2"><use href="#yr" x="136"/></g><g id="k75_3"><use href="#cr" x="188"/></g><g id="k75_4"><use href="#yr" x="240"/></g><g id="k75_5"><use href="#pr" x="292"/></g><g id="k75_6"><use href="#pr" x="344"/></g><g id="k75_7"><use href="#pr" x="396"/></g></g>
<g transform="translate(0,3900)"><g id="k76_1"><use href="#pl" x="84"/></g><g id="k76_2"><use href="#pl" x="136"/></g><g id="k76_3"><use href="#yl" x="188"/></g><g id="k76_4"><use href="#pl" x="240"/></g><g id="k76_5"><use href="#pl" x="292"/></g><g id="k76_6"><use href="#pl" x="344"/></g><g id="k76_7"><use href="#pl" x="396"/></g></g>
<g transform="translate(0,3952)"><g id="k77_1"><use href="#pr" x="84"/></g><g id="k77_2"><use href="#pr" x="136"/></g><g id="k77_3"><use href="#pr" x="188"/></g><g id="k77_4"><use href="#pr" x="240"/></g><g id="k77_5"><use href="#pr" x="292"/></g><g id="k77_6"><use href="#pr" x="344"/></g><g id="k77_7"><use href="#pr" x="396"/></g></g>
<g transform="translate(0,4004)"><g id="k78_1"><use href="#pl" x="84"/></g><g id="k78_2"><use href="#cl" x="136"/></g><g id="k78_3"><use href="#cl" x="188"/></g><g id="k78_4"><use href="#pl" x="240"/></g><g id="k78_5"><use href="#pl" x="292"/></g><g id="k78_6"><use href="#pl" x="344"/></g><g id="k78_7"><use href="#pl" x="396"/></g></g>
<g transform="translate(0,4056)"><g id="k79_1"><use href="#pr" x="84"/></g><g id="k79_2"><use href="#cr" x="136"/></g><g id="k79_3"><use href="#cr" x="188"/></g><g id="k79_4"><use href="#cr" x="240"/></g><g id="k79_5"><use href="#cr" x="292"/></g><g id="k79_6"><use href="#pr" x="344"/></g><g id="k79_7"><use href="#pr" x="396"/></g></g>
<g transform="translate(0,4108)"><g id="k80_1"><use href="#cl" x="84"/></g><g id="k80_2"><use href="#cl" x="136"/></g><g id="k80_3"><use href="#yl" x="188"/></g><g id="k80_4"><use href="#cl" x="240"/></g><g id="k80_5"><use href="#cl" x="292"/></g><g id="k80_6"><use href="#pl" x="344"/></g><g id="k80_7"><use href="#pl" x="396"/></g></g>
<g transform="translate(0,4160)"><g id="k81_1"><use href="#cr" x="84"/></g><g id="k81_2"><use href="#cr" x="136"/></g><g id="k81_3"><use href="#cr" x="188"/></g><g id="k81_4"><use href="#cr" x="240"/></g><g id="k81_5"><use href="#pr" x="292"/></g><g id="k81_6"><use href="#pr" x="344"/></g><g id="k81_7"><use href="#pr" x="396"/></g></g>
<g transform="translate(0,4212)"><g id="k82_1"><use href="#pl" x="84"/></g><g id="k82_2"><use href="#pl" x="136"/></g><g id="k82_3"><use href="#cl" x="188"/></g><g id="k82_4"><use href="#cl" x="240"/></g><g id="k82_5"><use href="#pl" x="292"/></g><g id="k82_6"><use href="#pl" x="344"/></g><g id="k82_7"><use href="#pl" x="396"/></g></g>
<g transform="translate(0,4264)"><g id="k83_1"><use href="#pr" x="84"/></g><g id="k83_2"><use href="#pr" x="136"/></g><g id="k83_3"><use href="#pr" x="188"/></g><g id="k83_4"><use href="#pr" x="240"/></g><g id="k83_5"><use href="#pr" x="292"/></g><g id="k83_6"><use href="#pr" x="344"/></g><g id="k83_7"><use href="#pr" x="396"/></g></g>
<g transform="translate(0,4316)"><g id="k84_1"><use href="#pl" x="84"/></g><g id="k84_2"><use href="#pl" x="136"/></g><g id="k84_3"><use href="#pl" x="188"/></g><g id="k84_4"><use href="#cl" x="240"/></g><g id="k84_5"><use href="#cl" x="292"/></g><g id="k84_6"><use href="#pl" x="344"/></g><g id="k84_7"><use href="#pl" x="396"/></g></g>
<g transform="translate(0,4368)"><g id="k85_1"><use href="#pr" x="84"/></g><g id="k85_2"><use href="#pr" x="136"/></g><g id="k85_3"><use href="#pr" x="188"/></g><g id="k85_4"><use href="#cr" x="240"/></g><g id="k85_5"><use href="#cr" x="292"/></g><g id="k85_6"><use href="#cr" x="344"/></g><g id="k85_7"><use href="#cr" x="396"/></g></g>
<g transform="translate(0,4420)"><g id="k86_1"><use href="#pl" x="84"/></g><g id="k86_2"><use href="#pl" x="136"/></g><g id="k86_3"><use href="#cl" x="188"/></g><g id="k86_4"><use href="#cl" x="240"/></g><g id="k86_5"><use href="#yl" x="292"/></g><g id="k86_6"><use href="#cl" x="344"/></g><g id="k86_7"><use href="#cl" x="396"/></g></g>
<g transform="translate(0,4472)"><g id="k87_1"><use href="#pr" x="84"/></g><g id="k87_2"><use href="#pr" x="136"/></g><g id="k87_3"><use href="#cr" x="188"/></g><g id="k87_4"><use href="#cr" x="240"/></g><g id="k87_5"><use href="#cr" x="292"/></g><g id="k87_6"><use href="#cr" x="344"/></g><g id="k87_7"><use href="#pr" x="396"/></g></g>
<g transform="translate(0,4524)"><g id="k88_1"><use href="#pl" x="84"/></g><g id="k88_2"><use href="#pl" x="136"/></g><g id="k88_3"><use href="#pl" x="188"/></g><g id="k88_4"><use href="#pl" x="240"/></g><g id="k88_5"><use href="#cl" x="292"/></g><g id="k88_6"><use href="#cl" x="344"/></g><g id="k88_7"><use href="#pl" x="396"/></g></g>
</g>
<g id="ends">
<text class="lab" x="31" y="4.2" fill="#fff">B</text>
<text class="lab" x="31" y="108.2" fill="#000">A</text>
<text class="lab" x="31" y="4424.2" fill="#000">A</text>
<text class="lab" x="31" y="4528.2" fill="#fff">B</text>
</g>
<g id="rowlabels-left" class="n ln">
<text x="21.5" y="4.6">1</text><text x="21.5" y="56.6">2</text><text x="21.5" y="108.6">3</text><text x="21.5" y="160.6">4</text><text x="21.5" y="212.6">5</text><text x="21.5" y="264.6">6</text><text x="21.5" y="316.6">7</text><text x="21.5" y="368.6">8</text><text x="21.5" y="420.6">9</text><text x="21.5" y="472.6">10</text><text x="21.5" y="524.6">11</text><text x="21.5" y="576.6">12</text><text x="21.5" y="628.6">13</text><text x="21.5" y="680.6">14</text><text x="21.5" y="732.6">15</text><text x="21.5" y="784.6">16</text><text x="21.5" y="836.6">17</text><text x="21.5" y="888.6">18</text><text x="21.5" y="940.6">19</text><text x="21.5" y="992.6">20</text><text x="21.5" y="1044.6">21</text><text x="21.5" y="1096.6">22</text><text x="21.5" y="1148.6">23</text><text x="21.5" y="1200.6">24</text><text x="21.5" y="1252.6">25</text><text x="21.5" y="1304.6">26</text><text x="21.5" y="1356.6">27</text><text x="21.5" y="1408.6">28</text><text x="21.5" y="1460.6">29</text><text x="21.5" y="1512.6">30</text><text x="21.5" y="1564.6">31</text><text x="21.5" y="1616.6">32</text><text x="21.5" y="1668.6">33</text><text x="21.5" y="1720.6">34</text><text x="21.5" y="1772.6">35</text><text x="21.5" y="1824.6">36</text><text x="21.5" y="1876.6">37</text><text x="21.5" y="1928.6">38</text><text x="21.5" y="1980.6">39</text><text x="21.5" y="2032.6">40</text><text x="21.5" y="2084.6">41</text><text x="21.5" y="2136.6">42</text><text x="21.5" y="2188.6">43</text><text x="21.5" y="2240.6">44</text><text x="21.5" y="2292.6">45</text><text x="21.5" y="2344.6">46</text><text x="21.5" y="2396.6">47</text><text x="21.5" y="2448.6">48</text><text x="21.5" y="2500.6">49</text><text x="21.5" y="2552.6">50</text><text x="21.5" y="2604.6">51</text><text x="21.5" y="2656.6">52</text><text x="21.5" y="2708.6">53</text><text x="21.5" y="2760.6">54</text><text x="21.5" y="2812.6">55</text><text x="21.5" y="2864.6">56</text><text x="21.5" y="2916.6">57</text><text x="21.5" y="2968.6">58</text><text x="21.5" y="3020.6">59</text><text x="21.5" y="3072.6">60</text><text x="21.5" y="3124.6">61</text><text x="21.5" y="3176.6">62</text><text x="21.5" y="3228.6">63</text><text x="21.5" y="3280.6">64</text><text x="21.5" y="3332.6">65</text><text x="21.5" y="3384.6">66</text><text x="21.5" y="3436.6">67</text><text x="21.5" y="3488.6">68</text><text x="21.5" y="3540.6">69</text><text x="21.5" y="3592.6">70</text><text x="21.5" y="3644.6">71</text><text x="21.5" y="3696.6">72</text><text x="21.5" y="3748.6">73</text><text x="21.5" y="3800.6">74</text><text x="21.5" y="3852.6">75</text><text x="21.5" y="3904.6">76</text><text x="21.5" y="3956.6">77</text><text x="21.5" y="4008.6">78</text><text x="21.5" y="4060.6">79</text><text x="21.5" y="4112.6">80</text><text x="21.5" y="4164.6">81</text><text x="21.5" y="4216.6">82</text><text x="21.5" y="4268.6">83</text><text x="21.5" y="4320.6">84</text><text x="21.5" y="4372.6">85</text><text x="21.5" y="4424.6">86</text><text x="21.5" y="4476.6">87</text><text x="21.5" y="4528.6">88</text>
</g>
<g id="rowlabels-right" class="n rn">
<text x="463.5" y="4.6">1</text><text x="463.5" y="56.6">2</text><text x="463.5" y="108.6">3</text><text x="463.5" y="160.6">4</text><text x="463.5" y="212.6">5</text><text x="463.5" y="264.6">6</text><text x="463.5" y="316.6">7</text><text x="463.5" y="368.6">8</text><text x="463.5" y="420.6">9</text><text x="463.5" y="472.6">10</text><text x="463.5" y="524.6">11</text><text x="463.5" y="576.6">12</text><text x="463.5" y="628.6">13</text><text x="463.5" y="680.6">14</text><text x="463.5" y="732.6">15</text><text x="463.5" y="784.6">16</text><text x="463.5" y="836.6">17</text><text x="463.5" y="888.6">18</text><text x="463.5" y="940.6">19</text><text x="463.5" y="992.6">20</text><text x="463.5" y="1044.6">21</text><text x="463.5" y="1096.6">22</text><text x="463.5" y="1148.6">23</text><text x="463.5" y="1200.6">24</text><text x="463.5" y="1252.6">25</text><text x="463.5" y="1304.6">26</text><text x="463.5" y="1356.6">27</text><text x="463.5" y="1408.6">28</text><text x="463.5" y="1460.6">29</text><text x="463.5" y="1512.6">30</text><text x="463.5" y="1564.6">31</text><text x="463.5" y="1616.6">32</text><text x="463.5" y="1668.6">33</text><text x="463.5" y="1720.6">34</text><text x="463.5" y="1772.6">35</text><text x="463.5" y="1824.6">36</text><text x="463.5" y="1876.6">37</text><text x="463.5" y="1928.6">38</text><text x="463.5" y="1980.6">39</text><text x="463.5" y="2032.6">40</text><text x="463.5" y="2084.6">41</text><text x="463.5" y="2136.6">42</text><text x="463.5" y="2188.6">43</text><text x="463.5" y="2240.6">44</text><text x="463.5" y="2292.6">45</text><text x="463.5" y="2344.6">46</text><text x="463.5" y="2396.6">47</text><text x="463.5" y="2448.6">48</text><text x="463.5" y="2500.6">49</text><text x="463.5" y="2552.6">50</text><text x="463.5" y="2604.6">51</text><text x="463.5" y="2656.6">52</text><text x="463.5" y="2708.6">53</text><text x="463.5" y="2760.6">54</text><text x="463.5" y="2812.6">55</text><text x="463.5" y="2864.6">56</text><text x="463.5" y="2916.6">57</text><text x="463.5" y="2968.6">58</text><text x="463.5" y="3020.6">59</text><text x="463.5" y="3072.6">60</text><text x="463.5" y="3124.6">61</text><text x="463.5" y="3176.6">62</text><text x="463.5" y="3228.6">63</text><text x="463.5" y="3280.6">64</text><text x="463.5" y="3332.6">65</text><text x="463.5" y="3384.6">66</text><text x="463.5" y="3436.6">67</text><text x="463.5" y="3488.6">68</text><text x="463.5" y="3540.6">69</text><text x="463.5" y="3592.6">70</text><text x="463.5" y="3644.6">71</text><text x="463.5" y="3696.6">72</text><text x="463.5" y="3748.6">73</text><text x="463.5" y="3800.6">74</text><text x="463.5" y="3852.6">75</text><text x="463.5" y="3904.6">76</text><text x="463.5" y="3956.6">77</text><text x="463.5" y="4008.6">78</text><text x="463.5" y="4060.6">79</text><text x="463.5" y="4112.6">80</text><text x="463.5" y="4164.6">81</text><text x="463.5" y="4216.6">82</text><text x="463.5" y="4268.6">83</text><text x="463.5" y="4320.6">84</text><text x="463.5" y="4372.6">85</text><text x="463.5" y="4424.6">86</text><text x="463.5" y="4476.6">87</text><text x="463.5" y="4528.6">88</text>
</g>
<text class="wm" x="240" y="2267.8" textLength="154" lengthAdjust="spacingAndGlyphs">BRACELETBOOK.COM</text>
</g>
</svg>
